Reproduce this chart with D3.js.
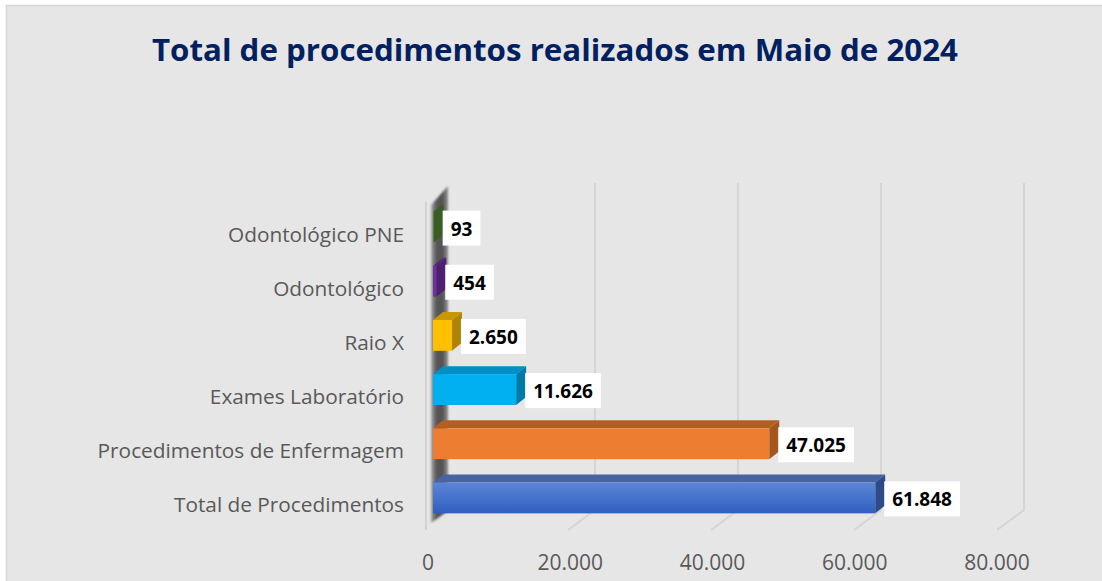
<!DOCTYPE html>
<html><head><meta charset="utf-8">
<script src="https://cdn.jsdelivr.net/npm/d3@7"></script>
<style>html,body{margin:0;padding:0;background:#fff;}svg{display:block;}</style>
</head><body><svg id="c" width="1102" height="581"></svg>
<script>
const categories = ["Odontológico PNE","Odontológico","Raio X","Exames Laboratório","Procedimentos de Enfermagem","Total de Procedimentos"];
const values = [93,454,2650,11626,47025,61848];
const tickValues = [0,20000,40000,60000,80000];
const tickLabels = ["0","20.000","40.000","60.000","80.000"];
const valueLabels = ["93","454","2.650","11.626","47.025","61.848"];
const title = "Total de procedimentos realizados em Maio de 2024";

const front = ["#548235","#7030a0","#ffc000","#00b0f0","#ed7d31","#4472c4"];
const top_ = ["#446a2a","#5a2585","#c99700","#0090c6","#b45f22","#48639f"];
const side = ["#3b5c24","#4c1f70","#b08400","#007aa8","#a4561f","#2f4b87"];

const svg = d3.select("#c");
const defs = svg.append("defs");
// background
svg.append("rect").attr("x",6).attr("y",5).attr("width",1096).attr("height",576).attr("fill","#e6e6e6");
svg.append("path").attr("d","M6.5,581V5.5H1102").attr("fill","none").attr("stroke","#d6d6d6").attr("stroke-width",1.5);

svg.append("text").attr("id","title").attr("x",555).attr("y",61).attr("text-anchor","middle")
  .attr("font-family","Open Sans, sans-serif").attr("font-weight",700).attr("font-size",31)
  .attr("fill","#002060").text(title);
const tnode = document.getElementById("title");
const tl = tnode.getComputedTextLength();
if (Math.abs(tl-806)>4) { d3.select(tnode).attr("textLength",806).attr("lengthAdjust","spacingAndGlyphs"); }

// projection constants
const frontX0 = 425, floorY = 530, depthX = 27, depthY = -20;
const barX0 = 433, barDX = 10, barDY = -8;
const x = d3.scaleLinear().domain([0,80000]).range([0,572]);
const xTick = d3.scaleLinear().domain([0,80000]).range([428,997]);
const y = d3.scaleBand().domain(categories).range([200,525]).paddingInner(0.43).paddingOuter(0.215);

// gridlines (back wall + floor)
const g = svg.append("g");
tickValues.forEach(v=>{
  if (v===0) return;
  const bx = frontX0+depthX+x(v);
  g.append("path").attr("d",`M${bx},183V${floorY+depthY}L${bx-depthX},${floorY}`)
   .attr("fill","none").attr("stroke","#d5d5d5").attr("stroke-width",2);
});

// left wall
const wg = defs.append("linearGradient").attr("id","wall").attr("x1","0").attr("x2","1").attr("y1","0").attr("y2","0");
[["0%","#a8a8a8"],["30%","#5a5a5a"],["65%","#505050"],["100%","#909090"]].forEach(s=>wg.append("stop").attr("offset",s[0]).attr("stop-color",s[1]));
defs.append("filter").attr("id","blur").append("feGaussianBlur").attr("stdDeviation",0.9);
svg.append("path").attr("d","M431,205L448,186V511L431,523Z").attr("fill","url(#wall)").attr("filter","url(#blur)");
svg.append("line").attr("x1",426).attr("x2",426).attr("y1",202).attr("y2",530).attr("stroke","#d2d2d2").attr("stroke-width",2);

// blue gradient
const bg = defs.append("linearGradient").attr("id","blueg").attr("x1","0").attr("x2","0").attr("y1","0").attr("y2","1");
[["0%","#5b86d6"],["100%","#2f5fbf"]].forEach(s=>bg.append("stop").attr("offset",s[0]).attr("stop-color",s[1]));

// bars
const bars = svg.append("g");
categories.forEach((c,i)=>{
  const v = values[i];
  const yt = y(c), h = y.bandwidth();
  const x1 = barX0, x2 = barX0 + x(v);
  bars.append("path").attr("d",`M${x1},${yt}L${x2},${yt}L${x2+barDX},${yt+barDY}L${x1+barDX},${yt+barDY}Z`).attr("fill",top_[i]);
  bars.append("path").attr("d",`M${x2},${yt}L${x2+barDX},${yt+barDY}L${x2+barDX},${yt+h+barDY}L${x2},${yt+h}Z`).attr("fill",side[i]);
  bars.append("rect").attr("x",x1).attr("y",yt).attr("width",x2-x1).attr("height",h)
    .attr("fill", i===5 ? "url(#blueg)" : front[i]);
});

// category labels
categories.forEach((c,i)=>{
  svg.append("text").attr("x",404).attr("y",y(c)+y.bandwidth()/2+14.5).attr("text-anchor","end")
    .attr("font-family","Open Sans, sans-serif").attr("font-size",20.8).attr("fill","#595959").text(c);
});

// value labels
categories.forEach((c,i)=>{
  const cy = y(c)+y.bandwidth()/2;
  const bx = barX0 + x(values[i]) + 9;
  const lg = svg.append("g");
  const r = lg.append("rect").attr("x",bx).attr("y",cy-16.5).attr("height",35).attr("fill","#fff");
  const t = lg.append("text").attr("x",bx+8).attr("y",cy+8.5).attr("font-family","Open Sans, sans-serif")
    .attr("font-weight",700).attr("font-size",19).attr("fill","#000").text(valueLabels[i]);
  r.attr("width", t.node().getComputedTextLength()+16);
});

// tick labels
tickValues.forEach((v,i)=>{
  svg.append("text").attr("x",xTick(v)).attr("y",570).attr("text-anchor","middle")
    .attr("font-family","Open Sans, sans-serif").attr("font-size",21).attr("fill","#595959").text(tickLabels[i]);
});
</script></body></html>
